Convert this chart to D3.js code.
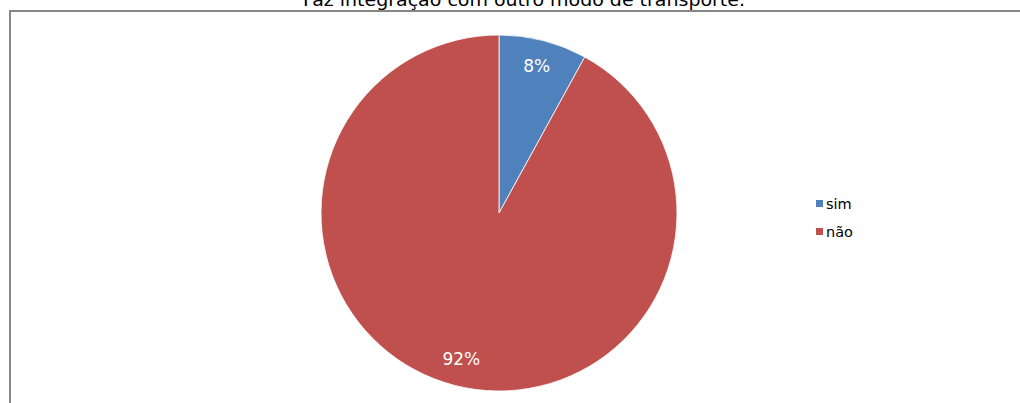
<!DOCTYPE html>
<html>
<head>
<meta charset="utf-8">
<script src="https://cdn.jsdelivr.net/npm/d3@7"></script>
<style>
  html, body { margin: 0; padding: 0; background: #fff; overflow: hidden; }
  svg { display: block; font-family: "DejaVu Sans", Verdana, sans-serif; }
</style>
</head>
<body>
<svg id="chart"></svg>
<script>
const width = 1020;
const height = 403;

// data
const categories = ["sim", "não"];
const values = [8, 92];
const colors = ["#4F81BD", "#C0504D"];
const title = "Faz integração com outro modo de transporte.";

const svg = d3.select("#chart").attr("width", width).attr("height", height);

// chart frame (runs off the right and bottom edges)
svg.append("rect")
    .attr("x", 10).attr("y", 11)
    .attr("width", 1040).attr("height", 420)
    .attr("fill", "#fff")
    .attr("stroke", "#868686")
    .attr("stroke-width", 2);

// title, mostly clipped at the top like in the source
svg.append("text")
    .attr("x", 524).attr("y", 6)
    .attr("text-anchor", "middle")
    .attr("font-size", 18)
    .attr("textLength", 442)
    .attr("lengthAdjust", "spacingAndGlyphs")
    .attr("fill", "#000")
    .text(title);

const cx = 499, cy = 213, r = 178;
const color = d3.scaleOrdinal().domain(categories).range(colors);

const pie = d3.pie().sort(null).value(d => d.value);
const arcs = pie(categories.map((c, i) => ({ name: c, value: values[i] })));
const arc = d3.arc().innerRadius(0).outerRadius(r);
const labelArc = d3.arc().innerRadius(r * 0.85).outerRadius(r * 0.85);

const g = svg.append("g").attr("transform", `translate(${cx},${cy})`);

g.selectAll(".slice").data(arcs).enter().append("path")
    .attr("class", "slice")
    .attr("d", arc)
    .attr("fill", d => color(d.data.name))
    .attr("stroke", "#fff")
    .attr("stroke-width", 0.8);

const total = d3.sum(values);
g.selectAll(".pct").data(arcs).enter().append("text")
    .attr("class", "pct")
    .attr("transform", d => {
        const [x, y] = labelArc.centroid(d);
        return `translate(${x},${y})`;
    })
    .attr("text-anchor", "middle")
    .attr("dy", "0.35em")
    .attr("font-size", 17)
    .attr("fill", "#fff")
    .text(d => Math.round(d.data.value / total * 100) + "%");

// legend
const legend = svg.append("g").attr("transform", "translate(816,200)");
const items = legend.selectAll(".item").data(categories).enter().append("g")
    .attr("class", "item")
    .attr("transform", (d, i) => `translate(0,${i * 28})`);

items.append("rect")
    .attr("width", 7).attr("height", 7)
    .attr("fill", d => color(d));

items.append("text")
    .attr("x", 10).attr("y", 3.5)
    .attr("dy", "0.35em")
    .attr("font-size", 14.5)
    .attr("fill", "#000")
    .text(d => d);
</script>
</body>
</html>
